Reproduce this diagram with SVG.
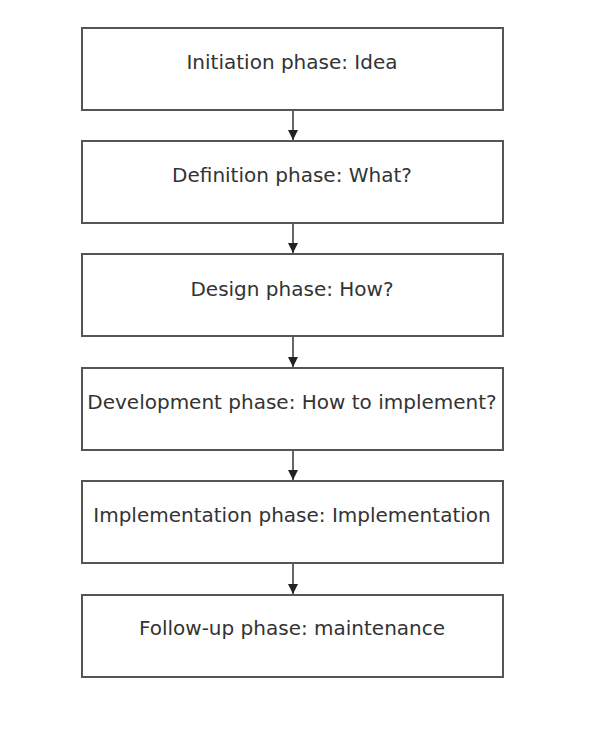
<svg xmlns="http://www.w3.org/2000/svg" width="613" height="742" viewBox="0 0 613 742">
<style>
.box{fill:#fff;stroke:#555;stroke-width:2}
.lbl{font-family:"DejaVu Sans",Verdana,sans-serif;font-size:20px;fill:#333;text-anchor:middle}
.con{stroke:#333;stroke-width:1.5;fill:none}
</style>
<defs>
<marker id="ah" viewBox="0 0 10 10" refX="10" refY="5" markerWidth="10" markerHeight="10" markerUnits="userSpaceOnUse" orient="auto">
<path d="M0,0 L10,5 L0,10 z" fill="#222"/>
</marker>
</defs>
<rect width="613" height="742" fill="#fff"/>
<g id="connectors">
<line class="con" x1="293" y1="111" x2="293" y2="140" marker-end="url(#ah)"/>
<line class="con" x1="293" y1="224" x2="293" y2="253" marker-end="url(#ah)"/>
<line class="con" x1="293" y1="337" x2="293" y2="367" marker-end="url(#ah)"/>
<line class="con" x1="293" y1="451" x2="293" y2="480" marker-end="url(#ah)"/>
<line class="con" x1="293" y1="564" x2="293" y2="594" marker-end="url(#ah)"/>
</g>
<g id="n1"><rect class="box" x="82" y="28" width="421" height="82"/><text class="lbl" x="292" y="69">Initiation phase: Idea</text></g>
<g id="n2"><rect class="box" x="82" y="141" width="421" height="82"/><text class="lbl" x="292" y="182">Definition phase: What?</text></g>
<g id="n3"><rect class="box" x="82" y="254" width="421" height="82"/><text class="lbl" x="292" y="296">Design phase: How?</text></g>
<g id="n4"><rect class="box" x="82" y="368" width="421" height="82"/><text class="lbl" x="292" y="409">Development phase: How to implement?</text></g>
<g id="n5"><rect class="box" x="82" y="481" width="421" height="82"/><text class="lbl" x="292" y="522">Implementation phase: Implementation</text></g>
<g id="n6"><rect class="box" x="82" y="595" width="421" height="82"/><text class="lbl" x="292" y="635">Follow-up phase: maintenance</text></g>
</svg>
